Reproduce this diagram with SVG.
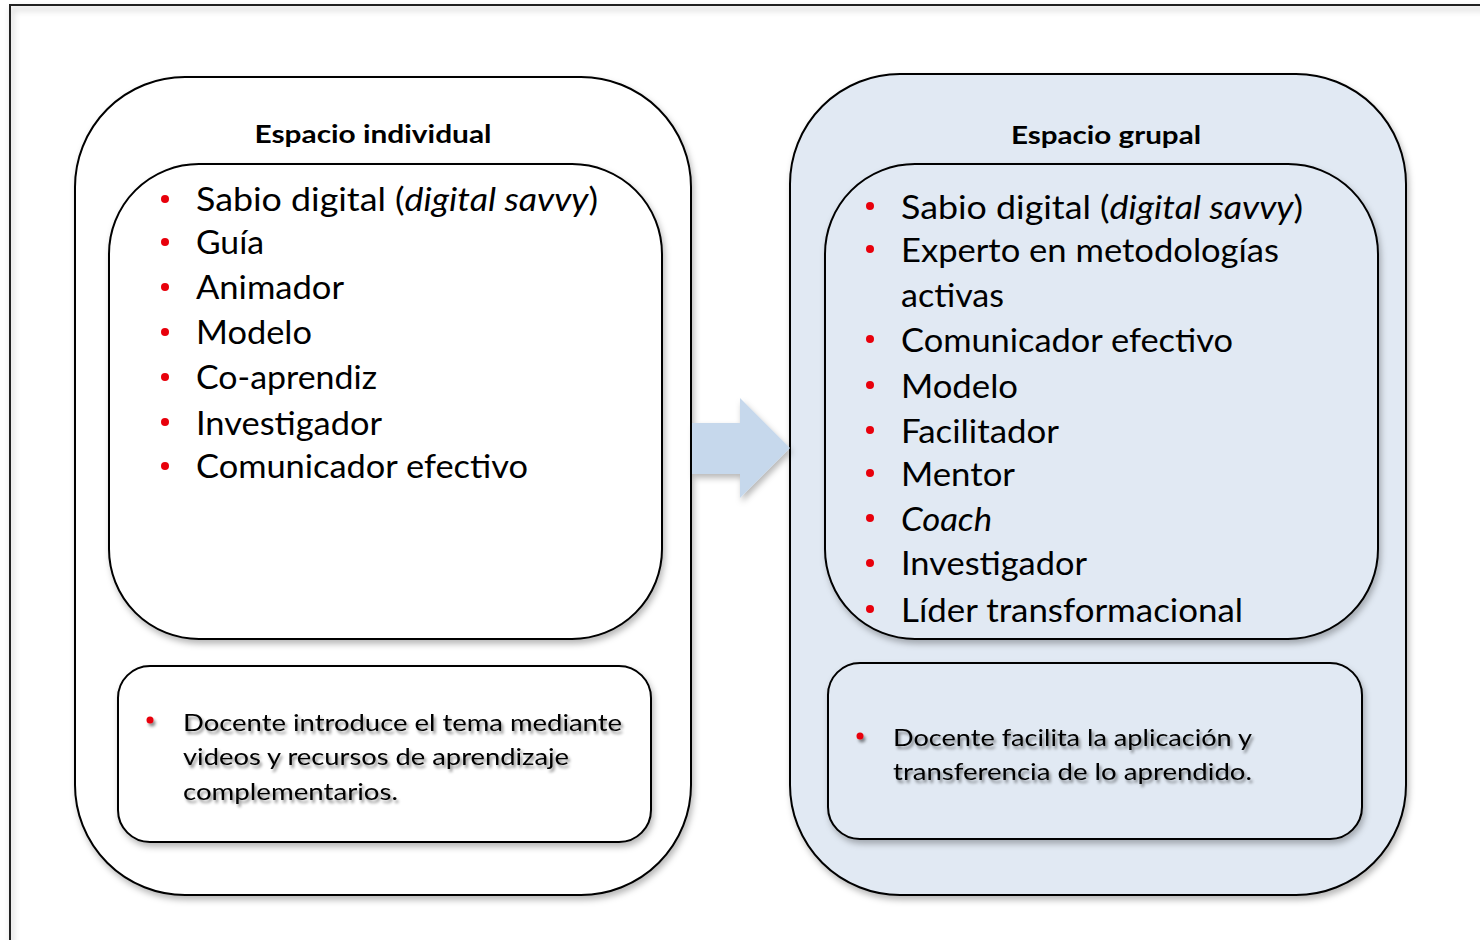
<svg xmlns="http://www.w3.org/2000/svg" width="1480" height="940" viewBox="0 0 1480 940">
<defs>
<filter id="sh" x="-10%" y="-10%" width="130%" height="130%">
<feDropShadow dx="2" dy="4" stdDeviation="3" flood-color="#000" flood-opacity="0.28"/>
</filter>
<filter id="tsh" x="-5%" y="-30%" width="115%" height="180%">
<feDropShadow dx="2" dy="3" stdDeviation="1.6" flood-color="#000" flood-opacity="0.45"/>
</filter>
<style>
.box{stroke:#000;stroke-width:2}
.w{fill:#fff}
.b{fill:#e1e9f3}
.t{font-family:Lato,"Open Sans","Liberation Sans",sans-serif;fill:#000}
.li{font-size:32px}
.hd{font-size:24px;font-weight:bold}
.sm{font-size:24px}
.dot{fill:#e8000b}
</style>
</defs>
<rect x="0" y="0" width="1480" height="940" fill="#fff"/>
<rect x="10" y="5" width="1500" height="1000" fill="none" stroke="#222" stroke-width="2" filter="url(#sh)"/>

<g id="individual">
<rect class="box w" x="75" y="77" width="616" height="818" rx="110" ry="110" filter="url(#sh)"/>
<text class="t hd" x="373" y="143" text-anchor="middle" textLength="237" lengthAdjust="spacingAndGlyphs">Espacio individual</text>
<g id="individual-roles">
<rect class="box w" x="109" y="164" width="553" height="475" rx="90" ry="90" filter="url(#sh)"/>
<circle class="dot" cx="165" cy="199" r="4"/>
<circle class="dot" cx="165" cy="242" r="4"/>
<circle class="dot" cx="165" cy="287" r="4"/>
<circle class="dot" cx="165" cy="332" r="4"/>
<circle class="dot" cx="165" cy="377" r="4"/>
<circle class="dot" cx="165" cy="422" r="4"/>
<circle class="dot" cx="165" cy="466" r="4"/>
<text class="t li" x="196" y="211" textLength="402" lengthAdjust="spacingAndGlyphs">Sabio digital (<tspan font-style="italic">digital savvy</tspan>)</text>
<text class="t li" x="196" y="254" textLength="68" lengthAdjust="spacingAndGlyphs">Guía</text>
<text class="t li" x="196" y="299" textLength="148" lengthAdjust="spacingAndGlyphs">Animador</text>
<text class="t li" x="196" y="344" textLength="116" lengthAdjust="spacingAndGlyphs">Modelo</text>
<text class="t li" x="196" y="389" textLength="181" lengthAdjust="spacingAndGlyphs">Co-aprendiz</text>
<text class="t li" x="196" y="435" textLength="186" lengthAdjust="spacingAndGlyphs">Investigador</text>
<text class="t li" x="196" y="478" textLength="332" lengthAdjust="spacingAndGlyphs">Comunicador efectivo</text>
</g>
<g id="individual-note">
<rect class="box w" x="118" y="666" width="533" height="176" rx="32" ry="32" filter="url(#sh)"/>
<g filter="url(#tsh)">
<circle class="dot" cx="150" cy="720" r="3.5"/>
<text class="t sm" x="183" y="731" textLength="439" lengthAdjust="spacingAndGlyphs">Docente introduce el tema mediante</text>
<text class="t sm" x="183" y="765" textLength="386" lengthAdjust="spacingAndGlyphs">videos y recursos de aprendizaje</text>
<text class="t sm" x="183" y="800" textLength="215" lengthAdjust="spacingAndGlyphs">complementarios.</text>
</g>
</g>
</g>

<g id="grupal">
<rect class="box b" x="790" y="74" width="616" height="821" rx="110" ry="110" filter="url(#sh)"/>
<text class="t hd" x="1106" y="144" text-anchor="middle" textLength="190" lengthAdjust="spacingAndGlyphs">Espacio grupal</text>
<g id="grupal-roles">
<rect class="box b" x="825" y="164" width="553" height="475" rx="90" ry="90" filter="url(#sh)"/>
<circle class="dot" cx="870" cy="206" r="4"/>
<circle class="dot" cx="870" cy="249" r="4"/>
<circle class="dot" cx="870" cy="339" r="4"/>
<circle class="dot" cx="870" cy="385" r="4"/>
<circle class="dot" cx="870" cy="430" r="4"/>
<circle class="dot" cx="870" cy="473" r="4"/>
<circle class="dot" cx="870" cy="518" r="4"/>
<circle class="dot" cx="870" cy="563" r="4"/>
<circle class="dot" cx="870" cy="609" r="4"/>
<text class="t li" x="901" y="219" textLength="402" lengthAdjust="spacingAndGlyphs">Sabio digital (<tspan font-style="italic">digital savvy</tspan>)</text>
<text class="t li" x="901" y="262" textLength="378" lengthAdjust="spacingAndGlyphs">Experto en metodologías</text>
<text class="t li" x="901" y="307" textLength="103" lengthAdjust="spacingAndGlyphs">activas</text>
<text class="t li" x="901" y="352" textLength="332" lengthAdjust="spacingAndGlyphs">Comunicador efectivo</text>
<text class="t li" x="901" y="398" textLength="117" lengthAdjust="spacingAndGlyphs">Modelo</text>
<text class="t li" x="901" y="443" textLength="158" lengthAdjust="spacingAndGlyphs">Facilitador</text>
<text class="t li" x="901" y="486" textLength="114" lengthAdjust="spacingAndGlyphs">Mentor</text>
<text class="t li" x="901" y="531" font-style="italic" textLength="91" lengthAdjust="spacingAndGlyphs">Coach</text>
<text class="t li" x="901" y="575" textLength="186" lengthAdjust="spacingAndGlyphs">Investigador</text>
<text class="t li" x="901" y="622" textLength="342" lengthAdjust="spacingAndGlyphs">Líder transformacional</text>
</g>
<g id="grupal-note">
<rect class="box b" x="828" y="663" width="534" height="176" rx="32" ry="32" filter="url(#sh)"/>
<g filter="url(#tsh)">
<circle class="dot" cx="860" cy="736" r="3.5"/>
<text class="t sm" x="893" y="746" textLength="359" lengthAdjust="spacingAndGlyphs">Docente facilita la aplicación y</text>
<text class="t sm" x="893" y="780" textLength="359" lengthAdjust="spacingAndGlyphs">transferencia de lo aprendido.</text>
</g>
</g>
</g>

<g id="connectors">
<path d="M692,423 L740,423 L740,398 L790,448 L740,498 L740,474 L692,474 Z" fill="#c6d8ec" filter="url(#sh)"/>
</g>
</svg>
